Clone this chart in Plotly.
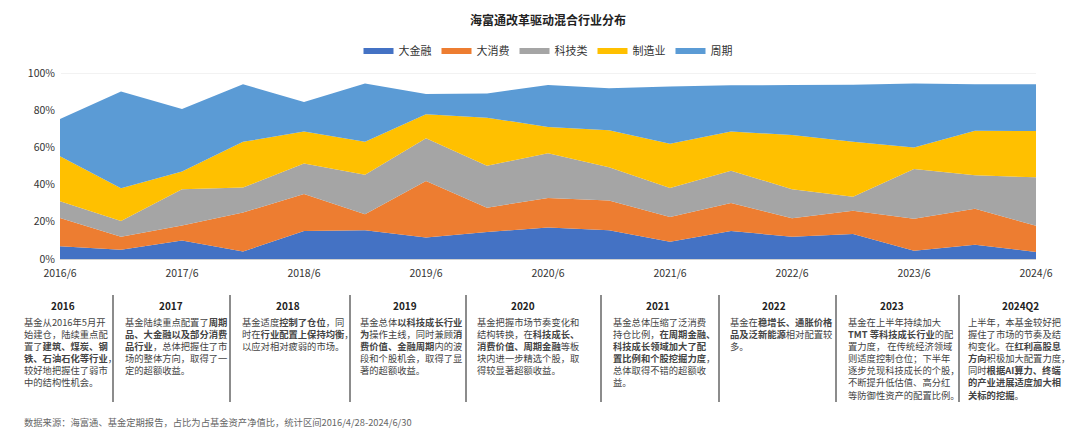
import plotly.graph_objects as go

periods = ["2016/6","2016/12","2017/6","2017/12","2018/6","2018/12","2019/6","2019/12",
           "2020/6","2020/12","2021/6","2021/12","2022/6","2022/12","2023/6","2023/12","2024/6"]
tick_labels = ["2016/6","2017/6","2018/6","2019/6","2020/6","2021/6","2022/6","2023/6","2024/6"]
y_tick_vals = [0, 20, 40, 60, 80, 100]
y_tick_labels = ["0%", "20%", "40%", "60%", "80%", "100%"]
# values (share of fund net assets, %)
finance =   [6.8, 5.0, 10.0, 4.0, 15.0, 15.4, 11.6, 14.5, 17.0, 15.4, 9.3, 15.0, 12.0, 13.4, 4.5, 7.7, 3.8]
consumer =  [15.2, 7.0, 8.0, 21.0, 20.0, 8.6, 30.4, 13.1, 15.8, 16.0, 13.3, 15.1, 9.9, 12.6, 17.2, 19.3, 14.1]
tech =      [9.0, 8.4, 19.5, 13.4, 16.4, 21.3, 22.9, 22.6, 24.0, 17.9, 15.6, 17.4, 15.6, 7.5, 26.7, 18.0, 26.0]
manufact =  [24.2, 17.7, 9.5, 24.6, 17.1, 17.7, 12.9, 25.8, 14.2, 19.9, 23.8, 21.0, 29.2, 29.5, 11.6, 24.0, 24.9]
cyclical =  [20.1, 51.9, 33.6, 31.0, 15.9, 31.3, 10.9, 13.0, 22.5, 22.6, 30.8, 24.9, 26.8, 30.7, 34.3, 25.0, 25.2]
series_names = ["大金融","大消费","科技类","制造业","周期"]
colors = ["#4472C4","#ED7D31","#A5A5A5","#FFC000","#5B9BD5"]

L, R, T, B, W, H = 52, 52, 65, 180, 1080, 431
PW, PH = W - L - R, H - T - B
def px(x): return (x - L) / PW
def py(y): return (H - B - y) / PH

FONT = "Noto Sans CJK SC"
fig = go.Figure()
xi = list(range(len(periods)))
for name, vals, c in zip(series_names, [finance, consumer, tech, manufact, cyclical], colors):
    fig.add_trace(go.Scatter(x=xi, y=vals, name=name, stackgroup="one", mode="none",
                             fillcolor=c, line=dict(width=0), hovertext=periods))

fig.update_layout(
    width=W, height=H, margin=dict(l=L, r=R, t=T, b=B),
    plot_bgcolor="white", paper_bgcolor="white",
    font=dict(family=FONT, color="#333333"),
    title=dict(text="<b>海富通改革驱动混合行业分布</b>", x=0.5, xanchor="center", y=1 - 13/H,
               yanchor="middle", font=dict(size=12, color="#222")),
    legend=dict(orientation="h", x=0.5, xanchor="center", y=py(43), yanchor="middle",
                font=dict(size=11, color="#333"), itemwidth=30, traceorder="normal"),
    xaxis=dict(range=[0, 16], tickvals=xi[::2], ticktext=tick_labels, showgrid=False,
               showline=True, linecolor="#d0d0d0", ticks="", ticklabelstandoff=4,
               tickfont=dict(size=10.5, color="#333")),
    yaxis=dict(range=[0, 100], tickvals=y_tick_vals, ticktext=y_tick_labels, showgrid=False,
               tickfont=dict(size=10.5, color="#333"), zeroline=False, ticklabelstandoff=4),
)
fig.add_shape(type="line", xref="paper", yref="y", x0=0, x1=1, y0=100, y1=100,
              line=dict(color="#e6e6e6", width=1.2), layer="below")

years = ["2016","2017","2018","2019","2020","2021","2022","2023","2024Q2"]
texts = [
 "基金从2016年5月开<br>始建仓，陆续重点配<br>置了<b>建筑、煤炭、钢</b><br><b>铁、石油石化等行业</b>，<br>较好地把握住了弱市<br>中的结构性机会。",
 "基金陆续重点配置了<b>周期</b><br><b>品、大金融以及部分消费</b><br><b>品行业</b>，总体把握住了市<br>场的整体方向，取得了一<br>定的超额收益。",
 "基金适度<b>控制了仓位</b>，同<br>时在<b>行业配置上保持均衡</b>，<br>以应对相对疲弱的市场。",
 "基金总体<b>以科技成长行业</b><br><b>为</b>操作主线，同时兼顾<b>消</b><br><b>费价值、金融周期</b>内的波<br>段和个股机会，取得了显<br>著的超额收益。",
 "基金把握市场节奏变化和<br>结构转换，在<b>科技成长、</b><br><b>消费价值、周期金融</b>等板<br>块内进一步精选个股，取<br>得较显著超额收益。",
 "基金总体压缩了泛消费<br>持仓比例，<b>在周期金融、</b><br><b>科技成长领域加大了配</b><br><b>置比例和个股挖掘力度</b>，<br>总体取得不错的超额收<br>益。",
 "基金在<b>稳增长、通胀价格</b><br><b>品及泛新能源</b>相对配置较<br>多。",
 "基金在上半年持续加大<br><b>TMT 等科技成长行业</b>的配<br>置力度， 在传统经济领域<br>则适度控制仓位；下半年<br>逐步兑现科技成长的个股，<br>不断提升低估值、高分红<br>等防御性资产的配置比例。",
 "上半年，本基金较好把<br>握住了市场的节奏及结<br>构变化。在<b>红利高股息</b><br><b>方向</b>积极加大配置力度，<br>同时<b>根据AI算力、终端</b><br><b>的产业进展适度加大相</b><br><b>关标的挖掘</b>。",
]
text_x = [14, 115, 232, 350, 467, 603, 720, 838, 958]
head_x = [55, 163, 280, 397, 515, 650, 766, 884, 1012]
sep_x = [105, 222, 342, 458, 593, 711, 828, 951]

for yr, tx, hx, t in zip(years, text_x, head_x, texts):
    fig.add_annotation(xref="paper", yref="paper", x=px(hx), y=py(297), text=f"<b>{yr}</b>",
                       showarrow=False, xanchor="center", yanchor="middle",
                       font=dict(size=10, color="#222", family=FONT))
    fig.add_annotation(xref="paper", yref="paper", x=px(tx), y=py(305), text=t,
                       showarrow=False, xanchor="left", yanchor="top", align="left",
                       font=dict(size=9.3, color="#444", family=FONT))
for sx in sep_x:
    fig.add_shape(type="line", xref="paper", yref="paper", x0=px(sx), x1=px(sx),
                  y0=py(287), y1=py(394), line=dict(color="#666", width=1.5))

fig.add_annotation(xref="paper", yref="paper", x=px(14), y=py(414),
                   text="数据来源：海富通、基金定期报告，占比为占基金资产净值比，统计区间2016/4/28-2024/6/30",
                   showarrow=False, xanchor="left", yanchor="middle",
                   font=dict(size=9.3, color="#666", family=FONT))

fig.write_html("out.html")
